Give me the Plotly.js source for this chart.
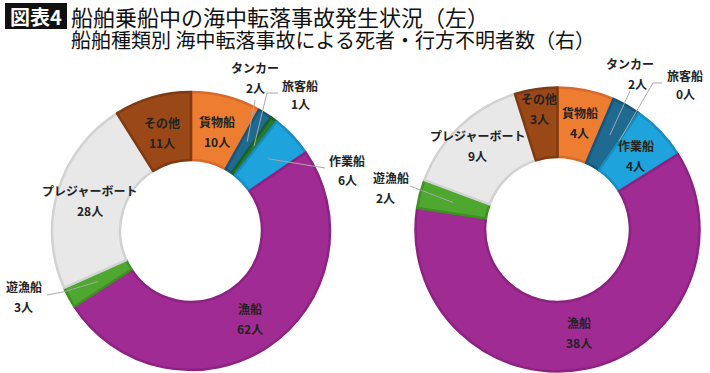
<!DOCTYPE html>
<html>
<head>
<meta charset="utf-8">
<script src="https://cdn.plot.ly/plotly-3.0.1.min.js"></script>
<style>html,body{margin:0;padding:0;background:#fff;}#chart{width:710px;height:373px;}</style>
</head>
<body>
<div id="chart"></div>
<script>
// ---- data ----
const categories = ['貨物船','タンカー','旅客船','作業船','漁船','遊漁船','プレジャーボート','その他'];
const leftValues = [10, 2, 1, 6, 62, 3, 28, 11];
const rightValues = [4, 2, 0, 4, 38, 2, 9, 3];
const unit = '人';
const titleTag = '図表4';
const titleLine1 = '船舶乗船中の海中転落事故発生状況（左）';
const titleLine2 = '船舶種類別 海中転落事故による死者・行方不明者数（右）';

// ---- styles ----
const fillColors = ['#ED7D31','#1F6A91','#237A33','#1FA3DC','#A02B93','#4EA72E','#E8E8E8','#9A4817'];
const lineColors = ['#D9692A','#17557A','#1A6028','#168DC2','#8C2281','#3E8F24','#D2D2D2','#7E3A12'];
const W = 710, H = 373;
const FONT = 'Noto Sans CJK JP, Noto Sans, sans-serif';

// chart geometry (pixels)
const charts = [
  {values: leftValues, cx: 191, cy: 231, R: 139,
   labels: {
     '貨物船': {rf: 0.74},
     'その他': {rf: 0.74},
     '漁船': {rf: 0.76},
     'プレジャーボート': {rf: 0.76},
     'タンカー': {name: [255, 67], val: [255, 88], path: [[255, 100]]},
     '旅客船': {name: [300, 85], val: [300, 104], path: [[267, 93], [278, 93]]},
     '作業船': {name: [347, 160], val: [347, 179], path: [[325, 168]]},
     '遊漁船': {name: [24, 286], val: [24, 306], path: [[63, 292], [47, 295]]}
   }},
  {values: rightValues, cx: 557.5, cy: 229.5, R: 142,
   labels: {
     '貨物船': {rf: 0.77},
     'その他': {rf: 0.86},
     '作業船': {rf: 0.76},
     '漁船': {rf: 0.74},
     'プレジャーボート': {rf: 0.82},
     'タンカー': {name: [630, 63], val: [637, 83], path: [[630, 91]]},
     '旅客船': {name: [685, 75], val: [685, 94], path: [[653, 83], [662, 83]]},
     '遊漁船': {name: [391, 177], val: [385, 197], path: [[410, 186]]}
   }}
];

const px = x => x / W;
const py = y => 1 - y / H;

const traces = [];
const annotations = [];
const shapes = [];

charts.forEach((c, ci) => {
  traces.push({
    type: 'pie',
    values: c.values,
    labels: categories,
    sort: false,
    direction: 'clockwise',
    rotation: 0,
    hole: 0.51,
    textinfo: 'none',
    hoverinfo: 'label+value',
    showlegend: false,
    marker: {colors: fillColors, line: {color: lineColors, width: 2.5}},
    domain: {x: [px(c.cx - c.R), px(c.cx + c.R)], y: [py(c.cy + c.R), py(c.cy - c.R)]}
  });
  const total = c.values.reduce((a, b) => a + b, 0);
  let cum = 0;
  categories.forEach((cat, i) => {
    const v = c.values[i];
    const mid = (cum + v / 2) / total * 2 * Math.PI;
    cum += v;
    const spec = c.labels[cat];
    const pt = rf => [c.cx + rf * c.R * Math.sin(mid), c.cy - rf * c.R * Math.cos(mid)];
    let namePos, valPos;
    if (spec.rf) {
      const p = pt(spec.rf);
      namePos = [p[0], p[1] - 10];
      valPos = [p[0], p[1] + 10];
    } else {
      namePos = spec.name;
      valPos = spec.val;
      const s = pt(0.76);
      let d = 'M ' + px(s[0]) + ',' + py(s[1]);
      spec.path.forEach(q => { d += ' L ' + px(q[0]) + ',' + py(q[1]); });
      shapes.push({type: 'path', xref: 'paper', yref: 'paper', path: d,
                   line: {color: '#A8A8A8', width: 1}});
    }
    [[namePos, cat], [valPos, v + unit]].forEach(([pos, txt]) => {
      annotations.push({xref: 'paper', yref: 'paper', x: px(pos[0]), y: py(pos[1]),
        xanchor: 'center', yanchor: 'middle', showarrow: false, text: '<b>' + txt + '</b>',
        font: {family: FONT, size: 12, color: '#222222'}});
    });
  });
});

// title
shapes.push({type: 'rect', xref: 'paper', yref: 'paper', x0: px(5), x1: px(67), y0: py(29), y1: py(3),
             fillcolor: '#111111', line: {width: 0}});
annotations.push({xref: 'paper', yref: 'paper', x: px(36), y: py(16), xanchor: 'center', yanchor: 'middle',
  showarrow: false, text: '<b>' + titleTag + '</b>', font: {family: FONT, size: 20, color: '#ffffff'}});
annotations.push({xref: 'paper', yref: 'paper', x: px(69), y: py(15.5), xanchor: 'left', yanchor: 'middle',
  showarrow: false, text: titleLine1, font: {family: FONT, size: 22, color: '#111111'}});
annotations.push({xref: 'paper', yref: 'paper', x: px(69), y: py(39.5), xanchor: 'left', yanchor: 'middle',
  showarrow: false, text: titleLine2, font: {family: FONT, size: 20, color: '#111111'}});

const layout = {
  width: W, height: H,
  margin: {l: 0, r: 0, t: 0, b: 0},
  paper_bgcolor: '#ffffff',
  plot_bgcolor: '#ffffff',
  annotations: annotations,
  shapes: shapes,
  font: {family: FONT}
};

Plotly.newPlot('chart', traces, layout, {displayModeBar: false, staticPlot: true});
</script>
</body>
</html>
